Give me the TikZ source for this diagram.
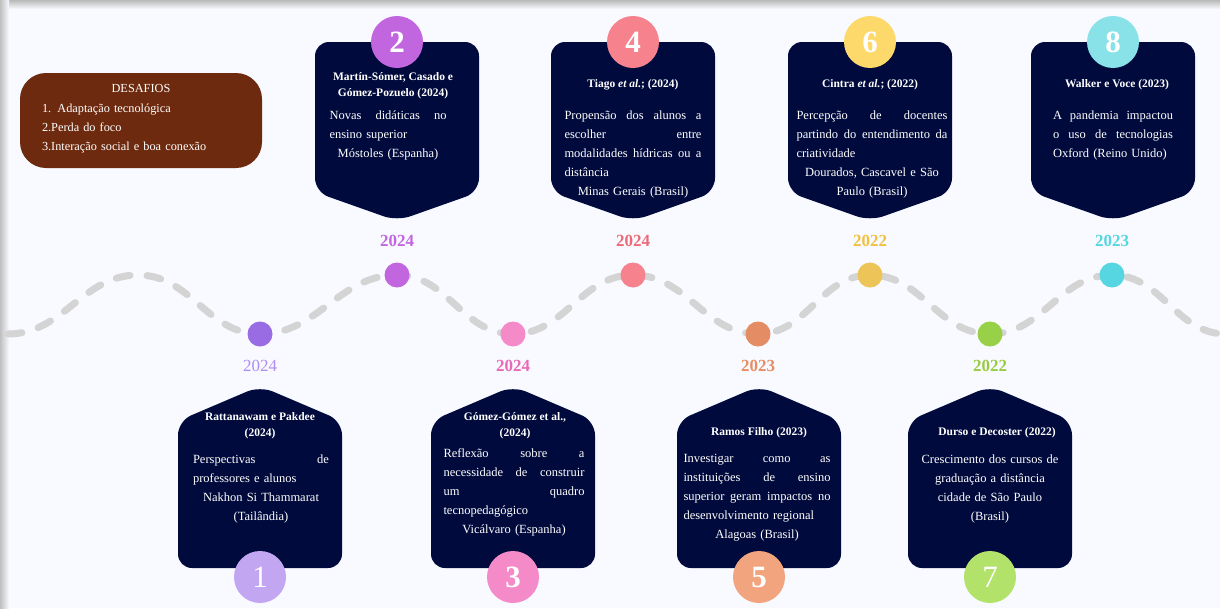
\documentclass[tikz,border=0pt]{standalone}
\usepackage{fontspec}
\setmainfont{Liberation Serif}
\usepackage{tikz}
\usetikzlibrary{positioning}

\definecolor{bgpaper}{HTML}{F8FAFF}
\definecolor{cardnavy}{HTML}{000A3C}
\definecolor{desafbrown}{HTML}{6E2A0E}
\definecolor{wavegray}{HTML}{D4D4D4}
% pontos da linha
\definecolor{dot1}{HTML}{9A6CE4}
\definecolor{dot2}{HTML}{C266E0}
\definecolor{dot3}{HTML}{F58AC8}
\definecolor{dot4}{HTML}{F5828C}
\definecolor{dot5}{HTML}{E48C64}
\definecolor{dot6}{HTML}{ECC458}
\definecolor{dot7}{HTML}{98D048}
\definecolor{dot8}{HTML}{56D6E0}
% anos
\definecolor{yr1}{HTML}{B08CF0}
\definecolor{yr2}{HTML}{C266E0}
\definecolor{yr3}{HTML}{E868B8}
\definecolor{yr4}{HTML}{EC6A78}
\definecolor{yr5}{HTML}{E88C64}
\definecolor{yr6}{HTML}{F2C040}
\definecolor{yr7}{HTML}{98CC40}
\definecolor{yr8}{HTML}{56D6E0}
% circulos numerados
\definecolor{num1}{HTML}{C3A6F2}
\definecolor{num2}{HTML}{C266E0}
\definecolor{num3}{HTML}{F58AC8}
\definecolor{num4}{HTML}{F5828C}
\definecolor{num5}{HTML}{F2A47E}
\definecolor{num6}{HTML}{FDD86A}
\definecolor{num7}{HTML}{B2E26A}
\definecolor{num8}{HTML}{88E2E8}

\newcommand{\jline}[1]{{\spaceskip=0pt\xspaceskip=0pt\makebox[\linewidth][s]{#1}}}
\newcommand{\lline}[1]{\makebox[\linewidth][l]{#1}}

\tikzset{
  wave/.style={draw=wavegray,line width=7pt,line cap=round,dash pattern=on 14pt off 17pt},
  card/.style={fill=cardnavy,rounded corners=14pt},
  numcirc/.style={circle,minimum size=52pt,inner sep=0pt,text=white},
  dot/.style={circle,minimum size=25pt,inner sep=0pt},
  yearlbl/.style={inner sep=0pt},
  cardtitle/.style={text=white,align=center,inner sep=0pt,font=\fontsize{11.5}{16}\selectfont\bfseries},
  cardbody/.style={text=white,align=center,inner sep=0pt,font=\fontsize{12.5}{19}\selectfont}
}

\begin{document}
\begin{tikzpicture}[x=1pt,y=-1pt]
    % fundo
    \path[use as bounding box,fill=bgpaper] (0,0) rectangle (1220,608);
    \fill[top color=gray!55,bottom color=bgpaper] (0,0) rectangle (1220,9);
    \fill[left color=gray!50,right color=bgpaper] (0,0) rectangle (9,608);

    % desafios
    \node[fill=desafbrown,rounded corners=26pt,minimum width=242pt,minimum height=95pt] (desafios) at (141,120.5) {};
    \node[text=white,text width=198pt,align=left,inner sep=0pt,font=\fontsize{12.3}{19.3}\selectfont] (desafiostxt) at (141,119)
        {\makebox[\linewidth][c]{DESAFIOS}\\1. Adaptação tecnológica\\2.Perda do foco\\3.Interação social e boa conexão};

    % linha ondulada
    \foreach \i/\x/\y in {0/8/334,1/138/275,2/260/334,3/397/275,4/513/334,5/633/275,6/758/334,7/870/275,8/990/334,9/1112/275,10/1226/334}
        \coordinate (w\i) at (\x,\y);
    \draw[wave] (w0) foreach \i in {1,...,10} {to[out=0,in=180] (w\i)};

    % pontos e anos
    \foreach \i/\w in {1/2,2/3,3/4,4/5,5/6,6/7,7/8,8/9}
        \node[dot,fill=dot\i] (d\i) at (w\w) {};
    \node[yearlbl,text=yr1,font=\fontsize{17}{17}\selectfont] (y1) at (260,366) {2024};
    \node[yearlbl,text=yr2,font=\fontsize{17}{17}\selectfont\bfseries] (y2) at (397,241) {2024};
    \node[yearlbl,text=yr3,font=\fontsize{17}{17}\selectfont\bfseries] (y3) at (513,366) {2024};
    \node[yearlbl,text=yr4,font=\fontsize{17}{17}\selectfont\bfseries] (y4) at (633,241) {2024};
    \node[yearlbl,text=yr5,font=\fontsize{17}{17}\selectfont\bfseries] (y5) at (758,366) {2023};
    \node[yearlbl,text=yr6,font=\fontsize{17}{17}\selectfont\bfseries] (y6) at (870,241) {2022};
    \node[yearlbl,text=yr7,font=\fontsize{17}{17}\selectfont\bfseries] (y7) at (990,366) {2022};
    \node[yearlbl,text=yr8,font=\fontsize{17}{17}\selectfont\bfseries] (y8) at (1112,241) {2023};

    % cartoes
    \foreach \x in {397,633,870,1113}
        \fill[card] ({\x-82},42) -- ({\x+82},42) -- ({\x+82},192) -- (\x,221) -- ({\x-82},192) -- cycle;
    \foreach \x in {260,513,759,990}
        \fill[card] ({\x-82},568) -- ({\x-82},421) -- (\x,386) -- ({\x+82},421) -- ({\x+82},568) -- cycle;

    % numeros
    \foreach \i/\x/\y/\fw in {1/260/577/\mdseries,2/397/42/\bfseries,3/513/577/\bfseries,4/633/42/\bfseries,5/759/577/\bfseries,6/870/42/\bfseries,7/990/577/\mdseries,8/1113/42/\bfseries}
        \node[numcirc,fill=num\i,font=\fontsize{31}{31}\selectfont\fw] (n\i) at (\x,\y) {\i};

    % textos de cima
    \node[cardtitle] (t2) at (393,85.5) {Martín-Sómer, Casado e\\Gómez-Pozuelo (2024)};
    \node[cardbody,text width=117pt] (b2) at (388,135.5) {\jline{Novas didáticas no}\\\lline{ensino superior}\\Móstoles (Espanha)};

    \node[cardtitle] (t4) at (633,85) {Tiago \textit{et al.}; (2024)};
    \node[cardbody,text width=137pt] (b4) at (633,154) {\jline{Propensão dos alunos a}\\\jline{escolher entre}\\\jline{modalidades hídricas ou a}\\\lline{distância}\\Minas Gerais (Brasil)};

    \node[cardtitle] (t6) at (870,85) {Cintra \textit{et al.}; (2022)};
    \node[cardbody,text width=151pt] (b6) at (872,154) {\jline{Percepção de docentes}\\\jline{partindo do entendimento da}\\\lline{criatividade}\\Dourados, Cascavel e São\\Paulo (Brasil)};

    \node[cardtitle] (t8) at (1117,85) {Walker e Voce (2023)};
    \node[cardbody,text width=120pt] (b8) at (1113,135.5) {\jline{A pandemia impactou}\\\jline{o uso de tecnologias}\\\lline{Oxford (Reino Unido)}};

    % textos de baixo
    \node[cardtitle] (t1) at (260,426) {Rattanawam e Pakdee\\(2024)};
    \node[cardbody,text width=136pt] (b1) at (261,488.5) {\jline{Perspectivas de}\\\lline{professores e alunos}\\Nakhon Si Thammarat\\(Tailândia)};

    \node[cardtitle] (t3) at (515,426) {Gómez-Gómez et al.,\\(2024)};
    \node[cardbody,text width=141pt] (b3) at (514,492) {\jline{Reflexão sobre a}\\\jline{necessidade de construir}\\\jline{um quadro}\\\lline{tecnopedagógico}\\Vicálvaro (Espanha)};

    \node[cardtitle] (t5) at (759,433) {Ramos Filho (2023)};
    \node[cardbody,text width=147pt] (b5) at (757,498) {\jline{Investigar como as}\\\jline{instituições de ensino}\\\jline{superior geram impactos no}\\\lline{desenvolvimento regional}\\Alagoas (Brasil)};

    \node[cardtitle] (t7) at (997,433) {Durso e Decoster (2022)};
    \node[cardbody,text width=150pt] (b7) at (990,488.5) {Crescimento dos cursos de\\graduação a distância\\cidade de São Paulo\\(Brasil)};
\end{tikzpicture}
\end{document}
